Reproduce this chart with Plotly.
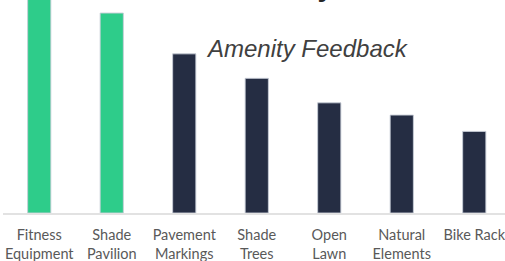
import plotly.graph_objects as go

categories = ["Fitness<br>Equipment", "Shade<br>Pavilion", "Pavement<br>Markings", "Shade<br>Trees",
              "Open<br>Lawn", "Natural<br>Elements", "Bike Rack"]
values = [56, 49, 39, 33, 27, 24, 20]
colors = ["#2ECC8A", "#2ECC8A", "#252D43", "#252D43", "#252D43", "#252D43", "#252D43"]

fig = go.Figure()
fig.add_trace(go.Bar(
    x=list(range(len(categories))), y=values, width=0.32,
    marker=dict(color=colors, line=dict(color="rgba(200,205,215,0.9)", width=1)),
    hoverinfo="skip",
))

fig.update_layout(
    width=505, height=261,
    margin=dict(l=3, r=0, t=0, b=48, autoexpand=False),
    paper_bgcolor="white", plot_bgcolor="white",
    showlegend=False,
    xaxis=dict(
        range=[-0.5, 6.424], tickmode="array", tickvals=list(range(len(categories))),
        ticktext=categories, showgrid=False, zeroline=False, automargin=False,
        showline=True, linecolor="#e2e2e2", linewidth=2, ticks="",
        ticklabelstandoff=8, ticklabeloverflow="allow",
        tickfont=dict(family="Lato", size=14.5, color="#595959"),
    ),
    yaxis=dict(range=[0, 52.2], visible=False, showgrid=False, zeroline=False, automargin=False),
    annotations=[
        dict(text="Amenity Feedback", xref="paper", yref="paper", x=0.6066, y=0.77,
             xanchor="center", yanchor="middle", showarrow=False,
             font=dict(family="Liberation Sans", size=24, color="#404040", style="italic")),
        dict(text="<b>Community</b>", xref="paper", yref="paper", x=0.661, y=1.0,
             xanchor="right", yanchor="bottom", yshift=-4, showarrow=False,
             font=dict(family="Liberation Sans", size=28, color="#262626")),
    ],
)

fig.write_html("out.html", config={"displayModeBar": False, "staticPlot": True},
               post_script="document.body.style.margin='0';document.body.style.overflow='hidden';")
